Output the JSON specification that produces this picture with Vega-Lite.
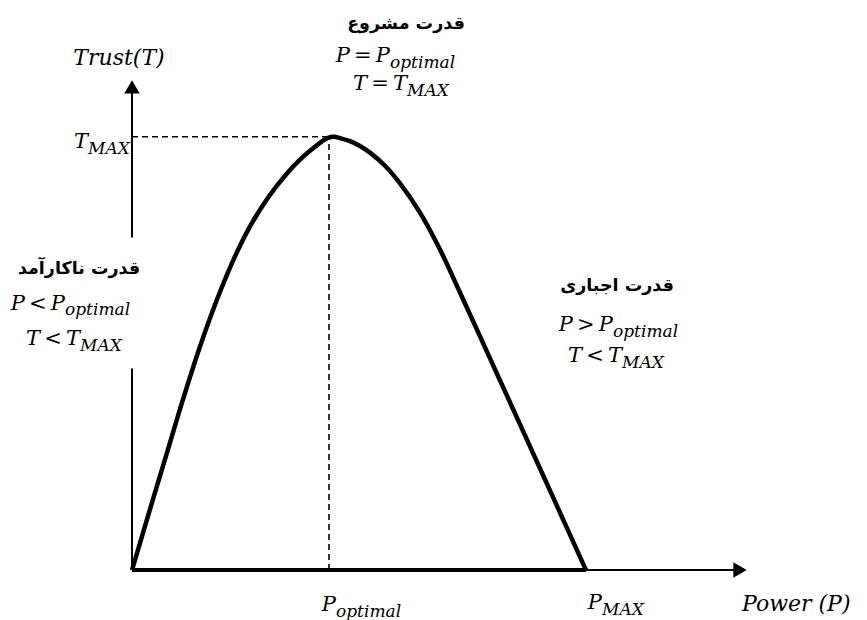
{
  "$schema": "https://vega.github.io/schema/vega-lite/v6.json",
  "width": 867,
  "height": 620,
  "autosize": {"type": "fit", "contains": "padding"},
  "padding": 0,
  "background": "white",
  "config": {"view": {"stroke": null}},
  "datasets": {
    "axes": [
      {"x": 0, "y": 0, "x2": 0, "y2": 202},
      {"x": 0, "y": 333, "x2": 0, "y2": 480},
      {"x": 0, "y": 0, "x2": 602, "y2": 0}
    ],
    "base": [
      {"x": 0, "y": 0, "x2": 454, "y2": 0}
    ],
    "dashed": [
      {"x": 0, "y": 434, "x2": 197, "y2": 434},
      {"x": 197, "y": 0, "x2": 197, "y2": 434}
    ],
    "curve": [
      {"x": 0, "y": 0},
      {"x": 21, "y": 71},
      {"x": 36, "y": 121},
      {"x": 51, "y": 171},
      {"x": 67, "y": 221},
      {"x": 85, "y": 271},
      {"x": 102, "y": 312},
      {"x": 119, "y": 346},
      {"x": 136, "y": 373},
      {"x": 153, "y": 395},
      {"x": 169, "y": 412},
      {"x": 183, "y": 424},
      {"x": 190, "y": 429.5},
      {"x": 196, "y": 433},
      {"x": 202, "y": 434},
      {"x": 208, "y": 432.7},
      {"x": 218, "y": 429.6},
      {"x": 228, "y": 424.8},
      {"x": 238, "y": 418.1},
      {"x": 253, "y": 405},
      {"x": 268, "y": 387.3},
      {"x": 288, "y": 358},
      {"x": 308, "y": 321},
      {"x": 328, "y": 278},
      {"x": 358, "y": 212},
      {"x": 388, "y": 146},
      {"x": 421, "y": 73},
      {"x": 454, "y": 0}
    ],
    "arrows": [
      {"x": 0, "y": 484, "shape": "triangle-up"},
      {"x": 608, "y": 0, "shape": "triangle-right"}
    ],
    "mainRight": [
      {"x": -44, "y": 423, "t": "T"},
      {"x": 258, "y": 509, "t": "P\u2009=\u2009P"},
      {"x": 275, "y": 481, "t": "T\u2009=\u2009T"},
      {"x": -67, "y": 261, "t": "P\u2009<\u2009P"},
      {"x": -52, "y": 225, "t": "T\u2009<\u2009T"},
      {"x": 481, "y": 239, "t": "P\u2009>\u2009P"},
      {"x": 490, "y": 208, "t": "T\u2009<\u2009T"},
      {"x": 204, "y": -41, "t": "P"},
      {"x": 470, "y": -39, "t": "P"}
    ],
    "subLeft": [
      {"x": -44, "y": 417, "t": "MAX"},
      {"x": 258, "y": 503, "t": "optimal"},
      {"x": 275, "y": 475, "t": "MAX"},
      {"x": -67, "y": 255, "t": "optimal"},
      {"x": -52, "y": 219, "t": "MAX"},
      {"x": 481, "y": 233, "t": "optimal"},
      {"x": 490, "y": 202, "t": "MAX"},
      {"x": 204, "y": -47, "t": "optimal"},
      {"x": 470, "y": -45, "t": "MAX"}
    ],
    "titleCenter": [
      {"x": -13, "y": 506, "t": "Trust(T)"}
    ],
    "titleLeft": [
      {"x": 610, "y": -41, "t": "Power (P)"}
    ],
    "persian": [
      {"x": 274, "y": 542, "t": "قدرت مشروع"},
      {"x": -53, "y": 297, "t": "قدرت ناکارآمد"},
      {"x": 485, "y": 280, "t": "قدرت اجباری"}
    ]
  },
  "encoding": {
    "x": {"field": "x", "type": "quantitative", "axis": null, "scale": {"domain": [-132, 735], "nice": false, "zero": false}},
    "y": {"field": "y", "type": "quantitative", "axis": null, "scale": {"domain": [-49, 571], "nice": false, "zero": false}}
  },
  "layer": [
    {
      "data": {"name": "axes"},
      "mark": {"type": "rule", "color": "black", "strokeWidth": 2},
      "encoding": {"x2": {"field": "x2"}, "y2": {"field": "y2"}}
    },
    {
      "data": {"name": "base"},
      "mark": {"type": "rule", "color": "black", "strokeWidth": 4},
      "encoding": {"x2": {"field": "x2"}, "y2": {"field": "y2"}}
    },
    {
      "data": {"name": "dashed"},
      "mark": {"type": "rule", "color": "black", "strokeWidth": 1.6, "strokeDash": [6, 4]},
      "encoding": {"x2": {"field": "x2"}, "y2": {"field": "y2"}}
    },
    {
      "data": {"name": "curve"},
      "mark": {"type": "line", "color": "black", "strokeWidth": 4.5, "interpolate": "catmull-rom", "strokeJoin": "round"},
      "encoding": {}
    },
    {
      "data": {"name": "arrows"},
      "mark": {"type": "point", "filled": true, "color": "black", "size": 240, "opacity": 1},
      "encoding": {"shape": {"field": "shape", "type": "nominal", "scale": null}}
    },
    {
      "data": {"name": "mainRight"},
      "mark": {"type": "text", "align": "right", "baseline": "alphabetic", "font": "DejaVu Serif", "fontStyle": "italic", "fontSize": 21, "color": "black"},
      "encoding": {"text": {"field": "t"}}
    },
    {
      "data": {"name": "subLeft"},
      "mark": {"type": "text", "align": "left", "baseline": "alphabetic", "font": "DejaVu Serif", "fontStyle": "italic", "fontSize": 17, "color": "black"},
      "encoding": {"text": {"field": "t"}}
    },
    {
      "data": {"name": "titleCenter"},
      "mark": {"type": "text", "align": "center", "baseline": "alphabetic", "font": "DejaVu Serif", "fontStyle": "italic", "fontSize": 22, "color": "black"},
      "encoding": {"text": {"field": "t"}}
    },
    {
      "data": {"name": "titleLeft"},
      "mark": {"type": "text", "align": "left", "baseline": "alphabetic", "font": "DejaVu Serif", "fontStyle": "italic", "fontSize": 22, "color": "black"},
      "encoding": {"text": {"field": "t"}}
    },
    {
      "data": {"name": "persian"},
      "mark": {"type": "text", "align": "center", "baseline": "alphabetic", "font": "DejaVu Sans", "fontWeight": "bold", "fontSize": 17.5, "color": "black"},
      "encoding": {"text": {"field": "t"}}
    }
  ]
}
